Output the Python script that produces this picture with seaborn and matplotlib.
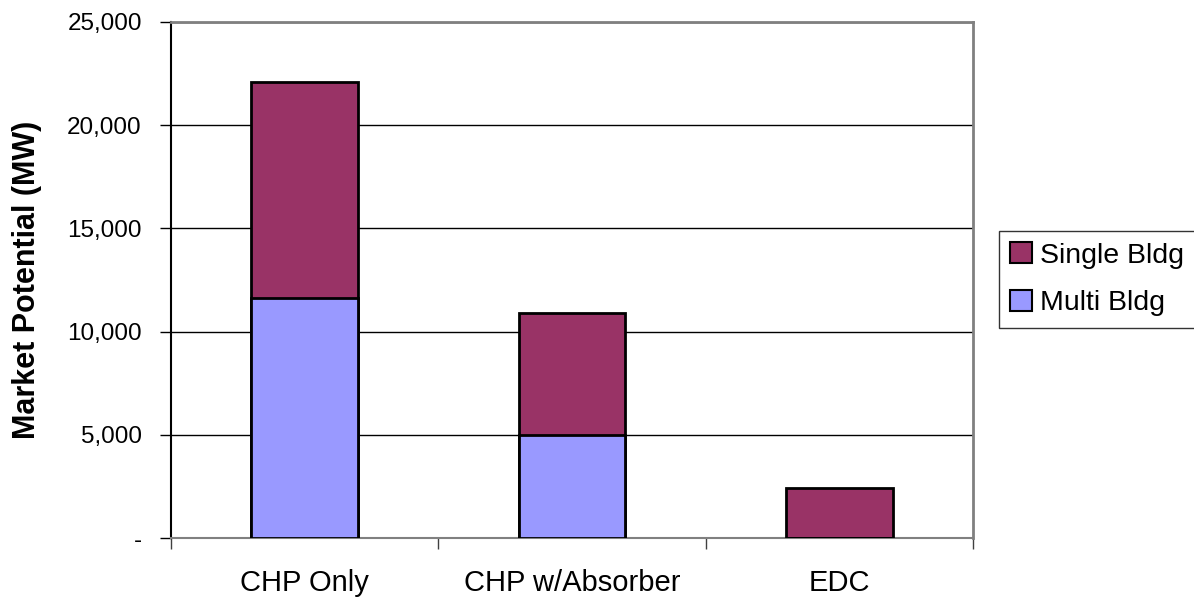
import matplotlib
matplotlib.use("Agg")
import matplotlib.pyplot as plt
import seaborn as sns
import numpy as np
import pandas as pd
from matplotlib.patches import Patch
from matplotlib.ticker import FuncFormatter, FixedLocator

categories = ["CHP Only", "CHP w/Absorber", "EDC"]
multi_bldg = [11650, 5000, 0]
single_bldg = [10450, 5880, 2450]
series_names = ["Single Bldg", "Multi Bldg"]
yticks = [0, 5000, 10000, 15000, 20000, 25000]

color_single = "#993366"
color_multi = "#9999FF"

totals = [m + s for m, s in zip(multi_bldg, single_bldg)]
df = pd.DataFrame({"category": categories, "multi": multi_bldg, "total": totals})

sns.set_theme(style="white")
plt.rcParams['font.family'] = ['Liberation Sans', 'DejaVu Sans']
plt.rcParams['text.color'] = 'black'
plt.rcParams['axes.labelcolor'] = 'black'
plt.rcParams['xtick.color'] = 'black'
plt.rcParams['ytick.color'] = 'black'

fig = plt.figure(figsize=(11.94, 5.97), dpi=100)
ax = fig.add_axes([171/1194, 1 - 538.3/597, (973-171)/1194, (538.3-21.7)/597])

sns.barplot(data=df, x="category", y="total", color=color_single, saturation=1,
            edgecolor="black", linewidth=2, width=0.4, ax=ax, zorder=3)
sns.barplot(data=df, x="category", y="multi", color=color_multi, saturation=1,
            edgecolor="black", linewidth=2, width=0.4, ax=ax, zorder=4)

ax.set_xlim(-0.5, 2.5)
ax.set_ylim(0, 25000)
ax.set_yticks(yticks)
ax.yaxis.set_major_formatter(FuncFormatter(lambda v, p: "-" if v == 0 else f"{int(v):,}"))
ax.yaxis.grid(True, color="black", linewidth=1, zorder=0)
ax.set_axisbelow(True)

ax.set_xlabel("")
ax.set_ylabel("Market Potential (MW)", fontsize=22, fontweight="bold", labelpad=18)

ax.tick_params(axis="y", which="major", direction="out", length=8, width=1,
               color="black", labelsize=17.5, labelcolor="black", pad=13, left=True)
ax.tick_params(axis="x", which="major", length=0, labelsize=21, labelcolor="black", pad=22)
ax.xaxis.set_minor_locator(FixedLocator([-0.5, 0.5, 1.5, 2.5]))
ax.tick_params(axis="x", which="minor", direction="out", length=8, width=1,
               color="#404040", bottom=True)

for side in ["top", "right"]:
    ax.spines[side].set_color("#808080")
    ax.spines[side].set_linewidth(2)
ax.spines["left"].set_color("black")
ax.spines["left"].set_linewidth(1.5)
ax.spines["bottom"].set_color("#808080")
ax.spines["bottom"].set_linewidth(1.5)

handles = [Patch(facecolor=color_single, edgecolor="black", linewidth=1.5),
           Patch(facecolor=color_multi, edgecolor="black", linewidth=1.5)]
leg = fig.legend(handles, series_names, loc="upper left",
                 bbox_to_anchor=(999/1194, 1 - 231/597), fontsize=20.5,
                 frameon=True, fancybox=False, edgecolor="black",
                 handlelength=0.75, handleheight=0.75, handletextpad=0.3,
                 borderpad=0.4, labelspacing=0.75, borderaxespad=0)
leg.get_frame().set_linewidth(1)
for t in leg.get_texts():
    t.set_color("black")

fig.savefig("out.png", dpi=100)
